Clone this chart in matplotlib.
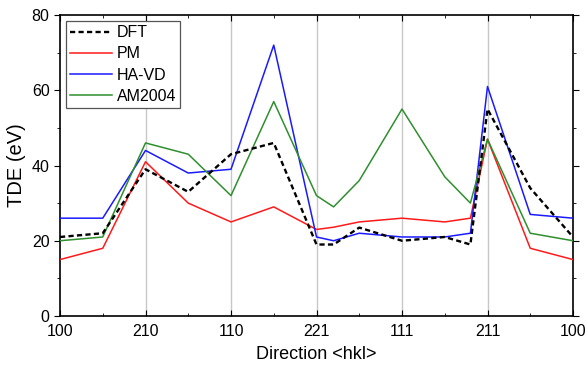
import matplotlib
matplotlib.use("Agg")
import matplotlib.pyplot as plt
from matplotlib.ticker import MultipleLocator

plt.rcParams['font.family'] = ['Liberation Sans', 'DejaVu Sans']

# positions along the path between high-symmetry directions
pos = [0, 0.5, 1, 1.5, 2, 2.5, 3, 3.2, 3.5, 4, 4.5, 4.8, 5, 5.5, 6]
dir_labels = ["100", "210", "110", "221", "111", "211", "100"]

dft = [21, 22, 39, 33, 43, 46, 19, 19, 23.5, 20, 21, 19, 55, 34, 21]
pm = [15, 18, 41, 30, 25, 29, 23, 23.6, 25, 26, 25, 26, 47, 18, 15]
havd = [26, 26, 44, 38, 39, 72, 21, 20, 22, 21, 21, 22, 61, 27, 26]
am2004 = [20, 21, 46, 43, 32, 57, 32, 29, 36, 55, 37, 30, 47, 22, 20]

fig = plt.figure(figsize=(5.87, 3.69), dpi=100)
ax = fig.add_axes([60 / 587, 1 - 316 / 369, 513 / 587, 301 / 369])

ax.plot(pos, dft, color="black", ls=(0, (2.2, 1.4)), lw=1.7, label="DFT", zorder=4)
ax.plot(pos, pm, color="#ff1a1a", lw=1.1, label="PM", zorder=3)
ax.plot(pos, havd, color="#1a1aff", lw=1.1, label="HA-VD", zorder=3)
ax.plot(pos, am2004, color="#2f8f2f", lw=1.1, label="AM2004", zorder=3)

ax.set_xlim(0, 6)
ax.set_ylim(0, 80)
ax.set_xticks(range(len(dir_labels)))
ax.set_xticklabels(dir_labels)
ax.xaxis.set_minor_locator(MultipleLocator(0.5))
ax.yaxis.set_major_locator(MultipleLocator(20))
ax.yaxis.set_minor_locator(MultipleLocator(10))
for xv in range(1, 6):
    ax.axvline(xv, color="#c8c8c8", lw=1.0, zorder=1)

ax.tick_params(which="both", labelsize=11.5, top=True, right=True, direction="in")
ax.tick_params(axis="y", which="both", direction="out", left=True)
ax.tick_params(axis="y", which="both", right=True)
ax.tick_params(axis="x", which="major", pad=6)
ax.tick_params(which="major", length=4)
ax.tick_params(which="minor", length=2.5)
for s in ax.spines.values():
    s.set_linewidth(1.2)

ax.set_xlabel("Direction <hkl>", fontsize=13, labelpad=5)
ax.set_ylabel("TDE (eV)", fontsize=14.5, labelpad=4)

leg = ax.legend(loc="upper left", fontsize=11.5, fancybox=False, framealpha=1,
                edgecolor="#555555", handlelength=2.6, handletextpad=0.3,
                borderpad=0.25, labelspacing=0.38, borderaxespad=0.4)
leg.get_frame().set_linewidth(0.9)

fig.savefig("out.png", dpi=100)
